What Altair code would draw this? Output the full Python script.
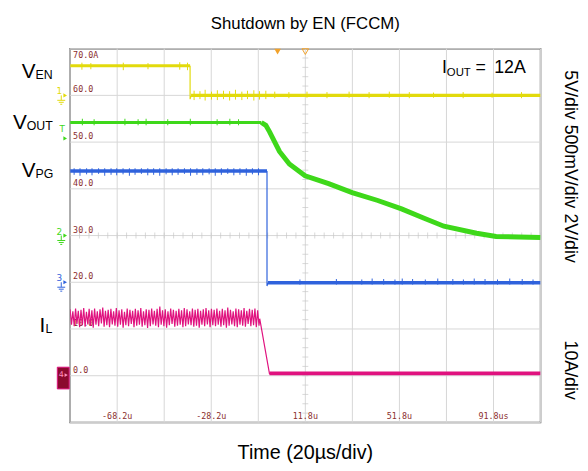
import altair as alt
import pandas as pd

W, H = 477, 379
T_DOM = [-88.2, 111.8]
V_DOM = [-10.0, 70.0]

YEL, GRN, BLU, MAG = "#e2da0c", "#3ed81a", "#2f62dc", "#e0127f"
LBL = "#8b2e2e"
ORG = "#f2a22a"
GRID = "#d6d6d6"

# ---------------- axes / scope labels ----------------
grid_t = [-88.2, -68.2, -48.2, -28.2, -8.2, 11.8, 31.8, 51.8, 71.8, 91.8, 111.8]
grid_v = [-10, 0, 10, 20, 30, 40, 50, 60, 70]
time_lbl = ["-68.2u", "-28.2u", "11.8u", "51.8u", "91.8us"]
time_lbl_t = [-68.2, -28.2, 11.8, 51.8, 91.8]
lvl_lbl = ["60.0", "50.0", "40.0", "30.0", "20.0", "10.0", "0.0"]
lvl_lbl_v = [60, 50, 40, 30, 20, 10, 0]

# ---------------- V_EN (yellow) ----------------
en_hi_t = [-88.2, -37.2]
en_hi_v = [66.35, 66.35]
en_drop_t = [-37.2, -37.2, -36.8]
en_drop_v = [66.35, 59.2, 59.9]
en_lo_t = [-36.8, 111.8]
en_lo_v = [60.0, 60.0]
en_spk_t = [-35.5, -33.0, -30.8, -28.1, -25.6, -23.0, -20.4, -17.9, -15.2, -12.8, -10.1, -7.7, -5.0,
            -1.2, 4.8, 12.5, 21.0, 30.4, 38.9, 47.5, 56.0, 66.3, 78.9, 91.2, 103.7]
en_spk_hi = [61.0, 60.9, 61.2, 60.8, 61.1, 61.0, 60.9, 61.2, 60.8, 61.0, 61.1, 60.9, 61.0,
             60.8, 60.7, 60.8, 60.7, 60.8, 60.7, 60.8, 60.7, 60.6, 60.7, 60.6, 60.7]
en_spk_lo = [59.0, 59.2, 58.9, 59.1, 59.0, 59.2, 58.9, 59.1, 59.0, 59.2, 58.9, 59.1, 59.2,
             59.4, 59.4, 59.5, 59.4, 59.5, 59.4, 59.5, 59.4, 59.5, 59.4, 59.5, 59.4]
en_hspk_t = [-83.2, -79.4, -65.6, -55.1, -41.6, -38.3]
en_hspk_hi = [67.0, 66.9, 67.0, 66.9, 67.1, 67.0]
en_hspk_lo = [65.5, 65.6, 65.4, 65.6, 65.5, 65.4]

# ---------------- V_OUT (green) ----------------
vout_flat_t = [-88.2, -6.9]
vout_flat_v = [54.2, 54.2]
vout_dec_t = [-6.9, -5.0, -3.4, 0.8, 5.0, 11.7, 21.7, 31.7, 42.6, 52.7, 62.3, 70.7, 84.6, 92.9, 111.8]
vout_dec_v = [54.2, 53.6, 52.2, 48.0, 45.3, 42.8, 41.1, 39.2, 37.5, 35.7, 33.7, 32.0, 30.5, 29.8, 29.6]
vout_spk_t = [-83.0, -78.0, -64.9, -59.3, -55.9, -46.7, -37.1, -25.7, -20.3, -16.6]
vout_spk_hi = [55.0, 54.9, 55.0, 54.9, 55.0, 54.9, 55.0, 54.9, 55.0, 54.9]
vout_spk_lo = [53.6] * 10

# ---------------- V_PG (blue) ----------------
pg_hi_t = [-88.2, -4.5]
pg_hi_v = [43.8, 43.8]
pg_drop_t = [-4.5, -4.5, -4.1]
pg_drop_v = [43.8, 19.2, 19.9]
pg_lo_t = [-4.1, 111.8]
pg_lo_v = [19.9, 19.9]
pg_spk_t = [-86.5, -84.0, -81.2, -78.9, -76.1, -73.5, -70.8, -68.4, -65.7, -63.0, -60.6, -57.9, -55.2,
            -52.7, -50.1, -47.4, -44.8, -42.3, -39.6, -37.0, -34.3, -31.8, -29.1, -26.5, -23.9, -21.2,
            -18.6, -16.0, -13.3, -10.7, -8.1]
pg_spk_lo = [43.0, 42.8, 43.1, 42.9, 43.2, 42.8, 43.0, 42.9, 43.1, 42.8, 43.0, 43.2, 42.9,
             43.0, 42.8, 43.1, 42.9, 43.0, 43.2, 42.8, 43.0, 42.9, 43.1, 42.8, 43.0, 43.2,
             42.9, 43.0, 42.8, 43.1, 42.9]
pg_spk_hi = [44.4] * 31
pg_lspk_t = [9.5, 25.0, 35.8, 40.2, 45.1, 49.9, 53.0, 57.4, 62.8, 68.1, 74.5, 79.0, 83.6, 88.2,
             93.5, 98.7, 104.0, 108.6]
pg_lspk_hi = [20.6, 20.7, 20.6, 20.8, 20.7, 20.6, 20.8, 20.7, 20.6, 20.8, 20.7, 20.6, 20.8, 20.7,
              20.6, 20.8, 20.7, 20.6]
pg_lspk_lo = [19.5] * 18

# ---------------- I_L (magenta) ----------------
il_hi = [14.2, 13.8, 14.4, 13.9, 14.1, 14.5, 13.7, 14.3, 14.0, 14.4, 13.8, 14.2, 14.6, 13.9,
         14.1, 14.3, 13.8, 14.5, 14.0, 14.2, 13.7, 14.4, 14.1, 13.9, 14.3, 14.0, 14.5, 13.8,
         14.2, 14.1, 14.4, 13.9, 14.3, 14.8, 14.0, 14.2, 13.8, 14.4, 14.1, 13.9, 14.3, 14.0,
         14.5, 14.2, 13.8, 14.4, 14.1, 14.3, 13.9, 14.2, 14.5, 14.0, 14.3, 14.1, 14.4,
         13.9, 14.3, 14.0, 14.6, 14.1, 13.8, 14.4, 14.2, 14.0, 14.5, 13.9, 14.3, 14.1, 14.4, 14.0]
il_lo = [10.9, 10.6, 11.1, 10.4, 10.8, 10.5, 11.0, 10.7, 10.3, 10.9, 10.6, 11.2, 10.5, 10.8,
         10.4, 11.0, 10.7, 10.5, 10.9, 10.3, 10.8, 10.6, 11.1, 10.4, 10.7, 10.9, 10.5, 10.8,
         10.2, 10.6, 11.0, 10.7, 10.4, 10.9, 10.6, 10.3, 10.8, 11.1, 10.5, 10.7, 10.9, 10.4,
         10.6, 11.0, 10.8, 10.5, 10.7, 10.3, 10.9, 10.6, 11.0, 10.4, 10.8, 10.6, 10.9,
         10.5, 10.8, 10.3, 10.7, 11.0, 10.6, 10.4, 10.9, 10.7, 10.5, 11.1, 10.6, 10.8, 10.4, 10.7]
il_ripple_start, il_ripple_end = -88.2, -7.9
il_drop_t = [-7.6, -3.4]
il_drop_v = [12.2, 0.3]
il_lo_t = [-3.4, 111.8]
il_lo_v = [0.5, 0.5]

# ---------------- build ----------------
xs = alt.Scale(domain=T_DOM, nice=False, zero=False)
ys = alt.Scale(domain=V_DOM, nice=False, zero=False)


def X(f="t"):
    return alt.X(f"{f}:Q", scale=xs, axis=None)


def Y(f="v"):
    return alt.Y(f"{f}:Q", scale=ys, axis=None)


def line(t, v, color, w):
    df = pd.DataFrame({"t": t, "v": v, "i": list(range(len(t)))})
    return alt.Chart(df).mark_line(color=color, strokeWidth=w, clip=True).encode(
        x=X(), y=Y(), order=alt.Order("i:Q"))


def spikes(t, lo, hi, color, w=1.0):
    df = pd.DataFrame({"t": t, "lo": lo, "hi": hi})
    return alt.Chart(df).mark_rule(color=color, strokeWidth=w).encode(
        x=X(), y=Y("lo"), y2="hi:Q")


def txt(s, x, y, size, color="black", font="Liberation Sans", align="left",
        baseline="alphabetic", angle=None):
    kw = dict(text=s, fontSize=size, font=font, color=color, align=align, baseline=baseline)
    if angle is not None:
        kw["angle"] = angle
    return alt.Chart().mark_text(**kw).encode(x=alt.value(x), y=alt.value(y))


layers = []
# grid
layers.append(alt.Chart(pd.DataFrame({"t": grid_t})).mark_rule(color=GRID, strokeWidth=1).encode(x=X()))
layers.append(alt.Chart(pd.DataFrame({"v": grid_v})).mark_rule(color=GRID, strokeWidth=1).encode(y=Y()))
# centre crosshair minor ticks
minor_t = [T_DOM[0] + 4 * k for k in range(51)]
minor_v = [V_DOM[0] + 2 * k for k in range(41)]
layers.append(alt.Chart(pd.DataFrame({"t": minor_t})).mark_tick(
    color="#c8c8c8", thickness=1, size=6, orient="vertical").encode(x=X(), y=alt.Y(datum=30, scale=ys, axis=None)))
layers.append(alt.Chart(pd.DataFrame({"v": minor_v})).mark_tick(
    color="#c8c8c8", thickness=1, size=6, orient="horizontal").encode(y=Y(), x=alt.X(datum=11.8, scale=xs, axis=None)))

# scope text labels
layers.append(alt.Chart(pd.DataFrame({"v": lvl_lbl_v, "s": lvl_lbl})).mark_text(
    font="DejaVu Sans Mono", fontSize=8.5, color=LBL, align="left", baseline="bottom", dy=-1).encode(
    x=alt.value(3), y=Y(), text="s:N"))
layers.append(txt("70.0A", 3, 2, 8.5, LBL, "DejaVu Sans Mono", baseline="top"))
layers.append(alt.Chart(pd.DataFrame({"t": time_lbl_t, "s": time_lbl})).mark_text(
    font="DejaVu Sans Mono", fontSize=8.5, color=LBL, align="center", baseline="bottom").encode(
    x=X(), y=alt.value(H - 1.5), text="s:N"))

# traces
layers.append(line(en_hi_t, en_hi_v, YEL, 3))
layers.append(spikes(en_hspk_t, en_hspk_lo, en_hspk_hi, YEL))
layers.append(line(en_drop_t, en_drop_v, YEL, 1.2))
layers.append(line(en_lo_t, en_lo_v, YEL, 3.5))
layers.append(spikes(en_spk_t, en_spk_lo, en_spk_hi, YEL))

layers.append(line(vout_flat_t, vout_flat_v, GRN, 3))
layers.append(spikes(vout_spk_t, vout_spk_lo, vout_spk_hi, GRN))
layers.append(line(vout_dec_t, vout_dec_v, GRN, 5))

layers.append(line(pg_hi_t, pg_hi_v, BLU, 3.5))
layers.append(spikes(pg_spk_t, pg_spk_lo, pg_spk_hi, BLU))
layers.append(line(pg_drop_t, pg_drop_v, BLU, 1.2))
layers.append(line(pg_lo_t, pg_lo_v, BLU, 3.5))
layers.append(spikes(pg_lspk_t, pg_lspk_lo, pg_lspk_hi, BLU))

rip_v = []
for h, l in zip(il_hi, il_lo):
    rip_v += [h, l]
n = len(rip_v)
rip_t = [il_ripple_start + (il_ripple_end - il_ripple_start) * k / (n - 1) for k in range(n)]
layers.append(line(rip_t + il_drop_t, rip_v + il_drop_v, MAG, 1.2))
layers.append(line(il_lo_t, il_lo_v, MAG, 4))

# trigger markers on top edge
layers.append(alt.Chart(pd.DataFrame({"t": [0.0]})).mark_point(
    shape="triangle-down", filled=True, color=ORG, size=45, opacity=1, yOffset=3).encode(
    x=X(), y=alt.Y(datum=70, scale=ys, axis=None)))
layers.append(alt.Chart(pd.DataFrame({"t": [11.8]})).mark_point(
    shape="triangle-down", filled=False, color=ORG, size=45, opacity=1, yOffset=3, strokeWidth=1).encode(
    x=X(), y=alt.Y(datum=70, scale=ys, axis=None)))


# channel ground markers
def ground(level, color, label):
    out = []
    out.append(alt.Chart().mark_text(text=label, font="DejaVu Sans", fontSize=9, color=color,
                                     align="center", baseline="bottom", dy=1).encode(
        x=alt.value(-11), y=alt.Y(datum=level, scale=ys, axis=None)))
    out.append(alt.Chart().mark_point(shape="triangle-right", filled=True, color=color, size=18,
                                      opacity=1).encode(
        x=alt.value(-5), y=alt.Y(datum=level, scale=ys, axis=None)))
    out.append(alt.Chart().mark_rule(color=color, strokeWidth=1, yOffset=0).encode(
        x=alt.value(-9), y=alt.Y(datum=level, scale=ys, axis=None), y2=alt.Y2(datum=level - 1.0)))
    for off, half in [(5, 4), (7, 2.5), (9, 1)]:
        out.append(alt.Chart().mark_rule(color=color, strokeWidth=1, yOffset=off).encode(
            x=alt.value(-9 - half), x2=alt.value(-9 + half), y=alt.Y(datum=level, scale=ys, axis=None)))
    return out


layers += ground(60, YEL, "1")
layers += ground(30, GRN, "2")
layers += ground(20, BLU, "3")
layers.append(txt("T", -8, 81, 9, GRN, "DejaVu Sans", align="center", baseline="middle"))
layers.append(alt.Chart().mark_point(shape="triangle-right", filled=True, color=GRN, size=18, opacity=1).encode(
    x=alt.value(-5), y=alt.value(91)))
layers.append(alt.Chart().mark_rect(fill="#8b0a2e", stroke=MAG, strokeWidth=1).encode(
    x=alt.value(-13), x2=alt.value(-1), y=alt.value(323), y2=alt.value(345)))
layers.append(txt("4", -9, 331, 8, "#ff8fc0", "DejaVu Sans", align="center", baseline="middle"))
layers.append(alt.Chart().mark_point(shape="triangle-right", filled=True, color="#ff8fc0", size=14, opacity=1).encode(
    x=alt.value(-4), y=alt.value(331)))

# outside annotations
layers.append(txt("Shutdown by EN (FCCM)", W / 2, -20, 17, align="center"))
layers.append(txt("Time (20µs/div)", W / 2, 416, 20, align="center"))

layers.append(txt("V", -49, 30, 21))
layers.append(txt("EN", -35, 31, 12.5))
layers.append(txt("V", -58, 81, 21))
layers.append(txt("OUT", -44, 82, 12.5))
layers.append(txt("V", -49, 130, 21))
layers.append(txt("PG", -35, 131, 12.5))
layers.append(txt("I", -31, 287, 21))
layers.append(txt("L", -25, 288, 12.5))

layers.append(txt("5V/div 500mV/div 2V/div", 507, 22, 18, baseline="middle", angle=90))
layers.append(txt("10A/div", 507, 296, 18, baseline="middle", angle=90))

layers.append(txt("I", 377, 25, 18))
layers.append(txt("OUT", 382, 28, 11.5))
layers.append(txt("=", 411, 25, 18))
layers.append(txt("12A", 430, 25, 18))

chart = alt.layer(*layers).properties(
    width=W, height=H,
    padding={"left": 63, "top": 38, "right": 40, "bottom": 46},
    autosize=alt.AutoSizeParams(type="none"),
).configure_view(stroke="#555555", strokeWidth=1.5)

chart.save("out.html", embed_options={"renderer": "svg", "actions": False})
